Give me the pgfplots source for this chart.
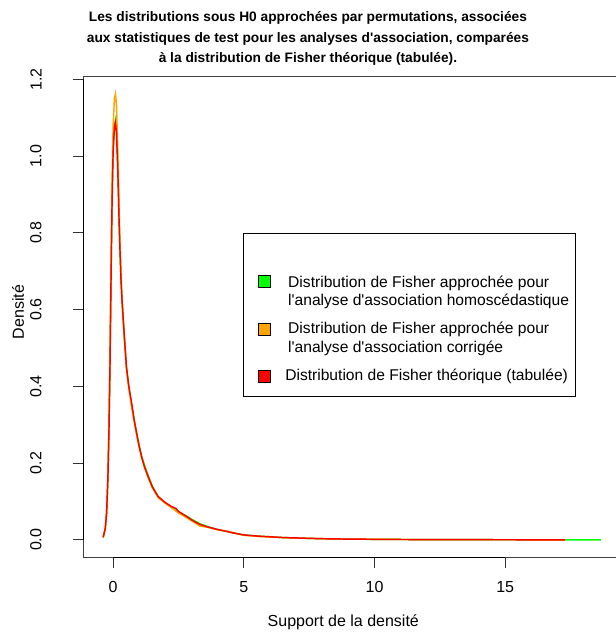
\documentclass[border=0pt]{standalone}
\usepackage{pgfplots}
\pgfplotsset{compat=1.18}
\usepackage{fontspec}
\setmainfont{Liberation Sans}
\definecolor{rgreen}{HTML}{00FF00}
\definecolor{rorange}{HTML}{FFA500}
\definecolor{rred}{HTML}{FF0000}
\newcommand{\q}{\textquotesingle}

\begin{document}
\begin{tikzpicture}
\begin{axis}[
  at={(0,0)}, anchor=south west,
  scale only axis, width=403.1pt, height=361.3pt,
  xmin=-1.14, xmax=19.42, ymin=-0.0464, ymax=1.2086,
  axis line style={draw=black!75, line width=0.7pt},
  xtick={0,5,10,15}, ytick={0,0.2,0.4,0.6,0.8,1.0,1.2},
  tick align=outside, major tick length=7.5pt,
  tick style={black!80, line width=0.7pt},
  xtick pos=bottom, ytick pos=left,
  /pgf/number format/assume math mode=true,
  yticklabel={\pgfmathprintnumber[fixed,fixed zerofill,precision=1]{\tick}},
  ticklabel style={font=\fontsize{12}{14}\selectfont},
  xticklabel style={yshift=-6.75pt},
  yticklabel style={xshift=-20.3pt, rotate=90, anchor=south},
  clip=false,
]
% approximate densities (kernel estimates)
\addplot[rgreen, line width=1.1pt] coordinates {
(-0.38,0.006) (-0.30,0.03) (-0.25,0.07) (-0.20,0.16) (-0.16,0.29) (-0.12,0.46)
(-0.08,0.69) (-0.04,0.89) (0.00,1.02) (0.05,1.08) (0.09,1.094) (0.13,1.065)
(0.18,0.965) (0.24,0.805) (0.30,0.68) (0.34,0.625) (0.42,0.535) (0.51,0.45)
(0.60,0.40) (0.70,0.355) (0.80,0.315) (0.90,0.278) (1.00,0.245) (1.09,0.218)
(1.20,0.195) (1.34,0.168) (1.50,0.14) (1.72,0.113) (2.00,0.096) (2.23,0.085)
(2.40,0.077) (2.50,0.073) (2.81,0.062) (3.00,0.054) (3.32,0.042) (3.60,0.035)
(3.83,0.030) (4.00,0.027) (4.34,0.022) (4.60,0.018) (4.98,0.013) (5.50,0.010)
(6.00,0.008) (6.50,0.006) (7.00,0.0048) (8.00,0.003) (9.00,0.002) (10.0,0.0014)
(11.0,0.001) (12.0,0.0007) (13.0,0.0005) (14.0,0.0004) (15.0,0.0003) (16.0,0.0002)
(17.0,0.0002) (18.0,0.0001) (18.66,0.0001)
};
\addplot[rorange, line width=1.1pt] coordinates {
(-0.38,0.006) (-0.30,0.03) (-0.25,0.07) (-0.20,0.16) (-0.16,0.29) (-0.12,0.47)
(-0.08,0.71) (-0.04,0.93) (0.00,1.08) (0.05,1.15) (0.09,1.162) (0.13,1.13)
(0.18,1.01) (0.24,0.83) (0.30,0.69) (0.34,0.625) (0.42,0.535) (0.51,0.445)
(0.60,0.395) (0.70,0.35) (0.80,0.31) (0.90,0.273) (1.00,0.24) (1.09,0.213)
(1.20,0.19) (1.34,0.162) (1.50,0.136) (1.72,0.11) (2.00,0.095) (2.23,0.084)
(2.40,0.075) (2.50,0.07) (2.81,0.058) (3.00,0.05) (3.32,0.036) (3.60,0.033)
(3.83,0.029) (4.00,0.026) (4.34,0.023) (4.60,0.019) (4.98,0.012) (5.50,0.009)
(6.00,0.0075) (6.50,0.006) (7.00,0.0047) (8.00,0.003) (9.00,0.002) (10.0,0.0015)
(11.0,0.001) (12.0,0.0007) (13.0,0.0005) (14.0,0.0004) (15.0,0.0003) (16.0,0.0002)
(17.29,0.0001)
};
\addplot[rred, line width=1.1pt] coordinates {
(-0.38,0.007) (-0.30,0.03) (-0.25,0.07) (-0.20,0.16) (-0.16,0.28) (-0.12,0.45)
(-0.08,0.68) (-0.04,0.88) (0.00,1.01) (0.05,1.075) (0.09,1.087) (0.13,1.06)
(0.18,0.96) (0.24,0.80) (0.30,0.68) (0.34,0.625) (0.42,0.54) (0.51,0.45)
(0.60,0.40) (0.70,0.36) (0.80,0.315) (0.90,0.278) (1.00,0.243) (1.09,0.217)
(1.20,0.19) (1.34,0.165) (1.50,0.138) (1.72,0.113) (2.00,0.097) (2.23,0.087)
(2.40,0.082) (2.50,0.074) (2.81,0.061) (3.00,0.052) (3.32,0.040) (3.60,0.034)
(3.83,0.030) (4.00,0.027) (4.34,0.022) (4.60,0.018) (4.98,0.013) (5.50,0.010)
(6.00,0.008) (6.50,0.006) (7.00,0.005) (8.00,0.003) (9.00,0.002) (10.0,0.0015)
(11.0,0.001) (12.0,0.0007) (13.0,0.0005) (14.0,0.0004) (15.0,0.0003) (16.0,0.0002)
(17.29,0.0001)
};
% axis lines over the tick range
\draw[black, line width=0.8pt] (axis cs:0,-0.0464) -- (axis cs:15,-0.0464);
\draw[black, line width=0.8pt] (axis cs:-1.14,0) -- (axis cs:-1.14,1.2);
\end{axis}

% title
\node[font=\fontsize{10.3}{15.4}\selectfont\bfseries, align=center] at (168.5pt,389.5pt)
  {Les distributions sous H0 approchées par permutations, associées\\
   aux statistiques de test pour les analyses d\q association, comparées\\
   à la distribution de Fisher théorique (tabulée).};
% axis titles
\node[font=\fontsize{12}{14}\selectfont] at (195pt,-48.2pt) {Support de la densité};
\node[font=\fontsize{12}{14}\selectfont, rotate=90] at (-49pt,184.3pt) {Densité};

% legend
\draw[black, line width=0.6pt] (119.8pt,120.75pt) rectangle (368.8pt,243.5pt);
\filldraw[fill=rgreen, draw=black, line width=0.5pt] (131pt,202.5pt) rectangle (140pt,211.5pt);
\filldraw[fill=rorange, draw=black, line width=0.5pt] (131pt,167pt) rectangle (140pt,176pt);
\filldraw[fill=rred, draw=black, line width=0.5pt] (131pt,131.25pt) rectangle (140pt,140.25pt);
\node[font=\fontsize{11.7}{13.9}\selectfont, anchor=west, align=left, inner sep=0pt] at (153.5pt,198.9pt)
  {Distribution de Fisher approchée pour\\l\q analyse d\q association homoscédastique};
\node[font=\fontsize{11.7}{13.9}\selectfont, anchor=west, align=left, inner sep=0pt] at (153.5pt,164.2pt)
  {Distribution de Fisher approchée pour\\l\q analyse d\q association corrigée};
\node[font=\fontsize{11.7}{13.9}\selectfont, anchor=west, align=left, inner sep=0pt] at (151.3pt,135.75pt)
  {Distribution de Fisher théorique (tabulée)};

\pgfresetboundingbox
\path (-62.5pt,-56.5pt) rectangle (399.5pt,418.3pt);
\end{tikzpicture}
\end{document}
